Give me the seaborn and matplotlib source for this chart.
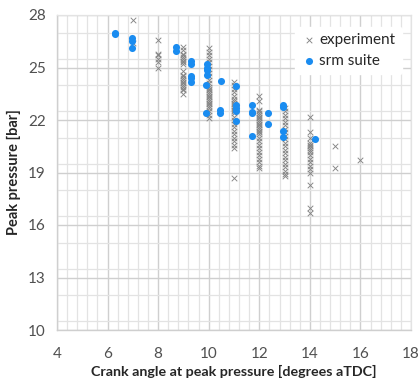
import numpy as np
import pandas as pd
import matplotlib
matplotlib.use("Agg")
import matplotlib.pyplot as plt
import seaborn as sns
from matplotlib.ticker import MultipleLocator

# ---- data ----
exp_x7 = [27.7, 26.4]
exp_x8 = [26.6, 25.8, 25.7, 25.5, 25.3, 25.0]
exp_x9 = [26.2, 26.0, 25.8, 25.7, 25.6, 25.5, 25.4, 25.3, 25.2, 24.8, 24.6, 24.5,
          24.4, 24.3, 24.2, 24.1, 24.0, 23.9, 23.8, 23.7, 23.5]
exp_x10 = [26.1, 25.9, 25.7, 25.5, 25.3, 25.1, 24.9, 24.7, 24.5, 24.3, 24.1, 23.9,
           23.8, 23.7, 23.6, 23.5, 23.4, 23.3, 23.2, 23.1, 23.0, 22.9, 22.8, 22.7,
           22.5, 22.3, 22.1]
exp_x11 = [24.2, 24.0, 23.8, 23.6, 23.4, 23.2, 23.1, 23.0, 22.9, 22.8, 22.7, 22.6,
           22.5, 22.4, 22.2, 22.0, 21.8, 21.6, 21.4, 21.2, 21.0, 20.8, 20.6, 20.4, 18.7]
exp_x12 = [23.4, 23.1, 22.6, 22.5, 22.4, 22.3, 22.2, 22.1, 22.0, 21.9, 21.8, 21.7,
           21.6, 21.5, 21.4, 21.3, 21.2, 21.0, 20.8, 20.6, 20.4, 20.2, 20.0, 19.8,
           19.6, 19.4, 19.25]
exp_x13 = [22.7, 22.5, 22.3, 22.1, 21.9, 21.7, 21.5, 21.3, 21.1, 20.9, 20.7, 20.5,
           20.3, 20.1, 19.9, 19.7, 19.5, 19.3, 19.1, 18.9, 18.8]
exp_x14 = [22.2, 21.3, 21.0, 20.7, 20.6, 20.5, 20.4, 20.3, 20.2, 20.0, 19.8, 19.6,
           19.4, 19.2, 19.0, 18.3, 17.0, 16.7]
exp_x15 = [20.5, 19.25]
exp_x16 = [19.7]
exp_angles = [7, 8, 9, 10, 11, 12, 13, 14, 15, 16]
exp_columns = [exp_x7, exp_x8, exp_x9, exp_x10, exp_x11, exp_x12, exp_x13,
               exp_x14, exp_x15, exp_x16]

srm_x = [6.3, 6.3, 6.95, 6.95, 6.95, 8.7, 8.7, 9.3, 9.3, 9.3, 9.3, 9.3,
         9.95, 9.95, 9.95, 9.95, 9.9, 9.9, 10.5, 10.45, 10.45,
         11.07, 11.07, 11.07, 11.07, 11.07, 11.7, 11.7, 11.7, 11.7,
         12.35, 12.35, 12.95, 12.95, 12.95, 12.95, 14.2]
srm_y = [27.0, 26.9, 26.7, 26.5, 26.1, 26.2, 25.95, 25.4, 25.2, 24.5, 24.4, 24.15,
         25.2, 25.0, 24.85, 24.6, 24.0, 22.4, 24.25, 22.6, 22.4,
         23.95, 22.85, 22.7, 22.5, 21.95, 22.85, 22.45, 22.4, 21.1,
         22.4, 21.75, 22.85, 22.75, 21.4, 21.05, 20.9]

x_ticks = [4, 6, 8, 10, 12, 14, 16, 18]
y_ticks = [10, 13, 16, 19, 22, 25, 28]

exp_df = pd.DataFrame({
    "angle": [a for a, col in zip(exp_angles, exp_columns) for _ in col],
    "pressure": [v for col in exp_columns for v in col],
})
srm_df = pd.DataFrame({"angle": srm_x, "pressure": srm_y})

# ---- plot ----
sns.set_style("white")
plt.rcParams["font.family"] = ["Lato", "DejaVu Sans"]

fig = plt.figure(figsize=(4.2, 3.82), dpi=100)
ax = fig.add_axes([57/420, 1-330/382, (411-57)/420, (330-15)/382])

sns.scatterplot(data=exp_df, x="angle", y="pressure", ax=ax, marker="x",
                color="#858585", s=16, linewidth=0.65, label="experiment", zorder=3)
sns.scatterplot(data=srm_df, x="angle", y="pressure", ax=ax, marker="o",
                color="#1a8cf0", s=26, linewidth=0, label="srm suite", zorder=4)

ax.set_xlim(4, 18)
ax.set_ylim(10, 28)
ax.set_xticks(x_ticks)
ax.set_yticks(y_ticks)
ax.xaxis.set_minor_locator(MultipleLocator(0.4))
ax.yaxis.set_minor_locator(MultipleLocator(1.5))
ax.grid(which="major", color="#cfcfcf", linewidth=1.0, zorder=0)
ax.grid(which="minor", color="#e3e3e3", linewidth=0.9, zorder=0)
ax.set_axisbelow(True)
for side in ["top", "right"]:
    ax.spines[side].set_color("#e3e3e3")
    ax.spines[side].set_linewidth(0.9)
for side in ["left", "bottom"]:
    ax.spines[side].set_color("#cfcfcf")
    ax.spines[side].set_linewidth(1.0)
ax.tick_params(axis="both", which="major", length=5, color="#cfcfcf",
               labelsize=11, labelcolor="#505050", width=1.0, pad=3)
ax.tick_params(axis="x", which="major", pad=7)
ax.tick_params(axis="both", which="minor", length=0)

ax.set_xlabel("Crank angle at peak pressure [degrees aTDC]", fontsize=10.3,
              fontweight="bold", color="#262626", labelpad=3)
ax.set_ylabel("Peak pressure [bar]", fontsize=10.5, fontweight="bold",
              color="#262626", labelpad=5)

leg = ax.legend(loc="upper right", bbox_to_anchor=(0.995, 0.985), frameon=True,
                fontsize=11, handletextpad=0.2, borderpad=0.4, labelspacing=0.45,
                handlelength=1.0, markerscale=1.0)
leg.get_frame().set_facecolor("white")
leg.get_frame().set_edgecolor("white")
leg.get_frame().set_alpha(1.0)
for t in leg.get_texts():
    t.set_color("#262626")

fig.savefig("out.png", dpi=100)
